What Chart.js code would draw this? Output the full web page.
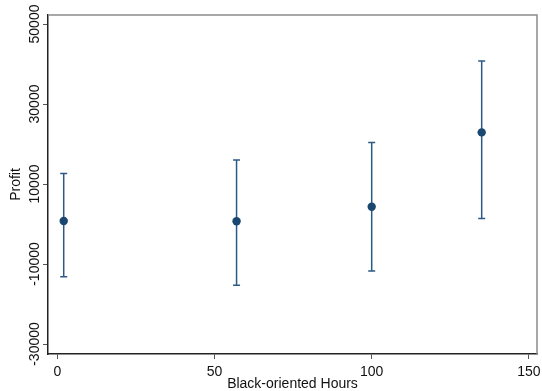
<!DOCTYPE html>
<html>
<head>
<meta charset="utf-8">
<script src="https://cdn.jsdelivr.net/npm/chart.js@4/dist/chart.umd.min.js"></script>
<style>
  html, body { margin: 0; padding: 0; background: #fff; }
  #wrap { width: 542px; height: 391px; }
</style>
</head>
<body>
<div id="wrap"><canvas id="c" width="542" height="391"></canvas></div>
<script>
const hours = [2, 57, 100, 135];
const profit = [750, 700, 4300, 22900];
const upper = [12600, 16000, 20400, 40750];
const lower = [-13200, -15300, -11750, 1400];
const xTicks = [0, 50, 100, 150];
const yTicks = [-30000, -10000, 10000, 30000, 50000];

const FONT = "'Liberation Sans', Arial, Helvetica, sans-serif";

const errorBars = {
  id: 'errorBars',
  beforeDatasetsDraw(chart) {
    const ctx = chart.ctx, xs = chart.scales.x, ys = chart.scales.y;
    ctx.save();
    ctx.strokeStyle = '#2d5a85';
    ctx.lineWidth = 1.5;
    const cap = 3.5;
    hours.forEach((h, i) => {
      const px = xs.getPixelForValue(h);
      const pu = ys.getPixelForValue(upper[i]);
      const pl = ys.getPixelForValue(lower[i]);
      ctx.beginPath();
      ctx.moveTo(px, pu); ctx.lineTo(px, pl);
      ctx.moveTo(px - cap, pu); ctx.lineTo(px + cap, pu);
      ctx.moveTo(px - cap, pl); ctx.lineTo(px + cap, pl);
      ctx.stroke();
    });
    ctx.restore();
  }
};

const frame = {
  id: 'frame',
  afterDraw(chart) {
    const {left, right, top, bottom} = chart.chartArea;
    const ctx = chart.ctx;
    ctx.save();
    ctx.strokeStyle = '#8c8c8c';
    ctx.lineWidth = 1.5;
    ctx.beginPath();
    ctx.moveTo(left, top); ctx.lineTo(right, top); ctx.lineTo(right, bottom);
    ctx.stroke();
    ctx.restore();
  }
};

new Chart(document.getElementById('c'), {
  type: 'scatter',
  data: {
    datasets: [{
      data: hours.map((h, i) => ({x: h, y: profit[i]})),
      backgroundColor: '#1a476f',
      borderColor: '#1a476f',
      pointRadius: 4.2,
      pointHoverRadius: 4.2,
      borderWidth: 0
    }]
  },
  options: {
    responsive: false,
    devicePixelRatio: 1,
    animation: false,
    layout: { padding: { top: 15, right: 5, left: 0, bottom: 0 } },
    plugins: { legend: { display: false }, tooltip: { enabled: false } },
    scales: {
      x: {
        type: 'linear',
        min: -3,
        max: 152.6,
        afterBuildTicks: s => { s.ticks = xTicks.map(v => ({value: v})); },
        afterFit: s => { s.height = 37; s.paddingLeft = 0; s.paddingRight = 0; },
        grid: { drawOnChartArea: false, drawTicks: true, tickLength: 5, color: '#555', lineWidth: 1 },
        border: { display: true, color: '#222', width: 1.5 },
        ticks: { color: '#111', font: { family: FONT, size: 14 }, padding: 5, maxRotation: 0, autoSkip: false },
        title: { display: true, text: 'Black-oriented Hours', color: '#111', font: { family: FONT, size: 14, lineHeight: 1 }, padding: { top: 0, bottom: 0 } }
      },
      y: {
        type: 'linear',
        min: -32500,
        max: 52250,
        afterBuildTicks: s => { s.ticks = yTicks.map(v => ({value: v})); },
        afterFit: s => { s.width = 48; s.paddingTop = 0; s.paddingBottom = 0; },
        grid: { drawOnChartArea: false, drawTicks: true, tickLength: 5, color: '#555', lineWidth: 1 },
        border: { display: true, color: '#222', width: 1.5 },
        ticks: {
          color: '#111', font: { family: FONT, size: 14 },
          minRotation: 90, maxRotation: 90, crossAlign: 'center', padding: -14,
          autoSkip: false,
          callback: v => String(v)
        },
        title: { display: true, text: 'Profit', color: '#111', font: { family: FONT, size: 14 }, padding: { top: 8, bottom: 0 } }
      }
    }
  },
  plugins: [errorBars, frame]
});
</script>
</body>
</html>
